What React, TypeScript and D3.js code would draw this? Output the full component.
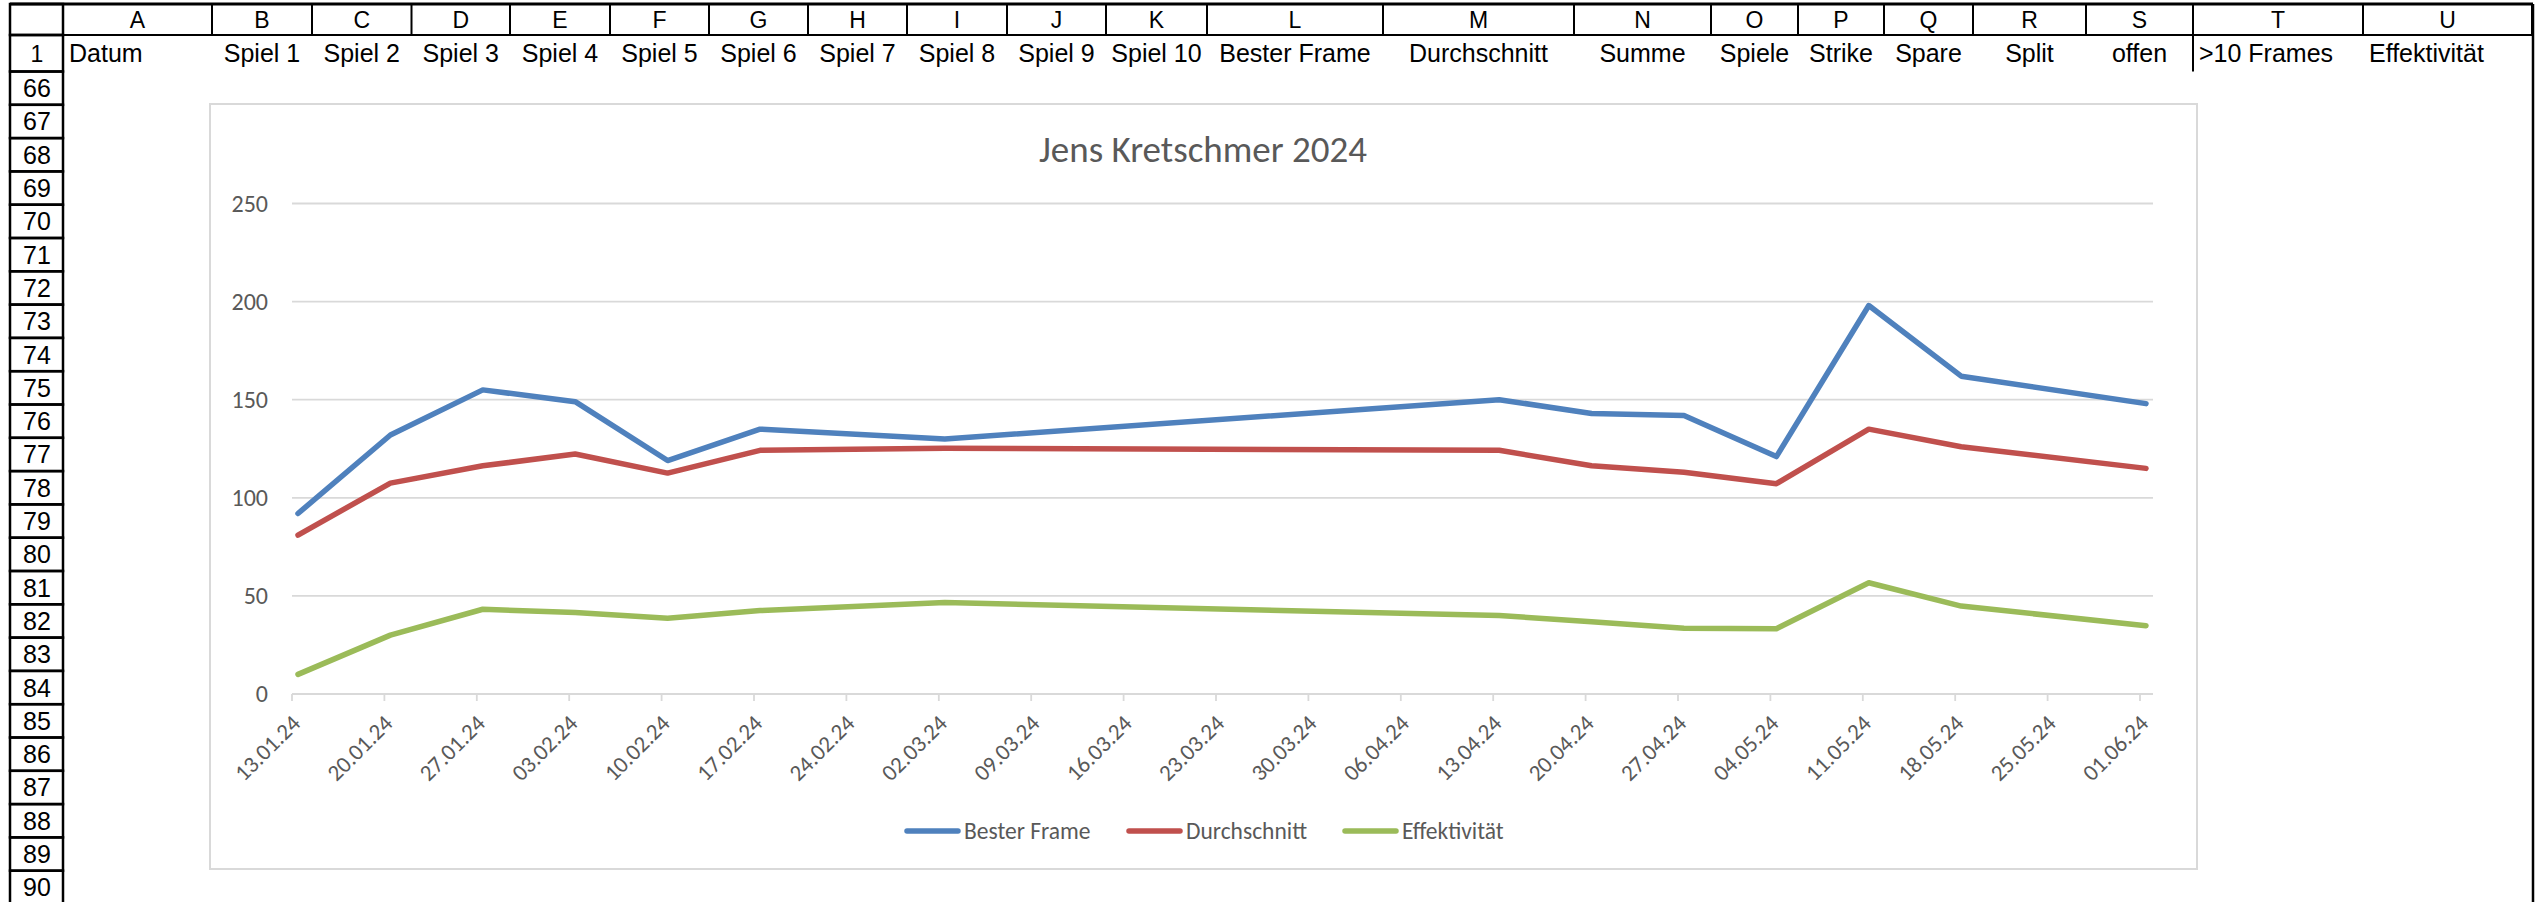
import React, { useEffect, useRef } from "react";
import * as d3 from "d3";

// Kategorien der X-Achse (Spieltage)
const dates = [
  "13.01.24", "20.01.24", "27.01.24", "03.02.24", "10.02.24", "17.02.24", "24.02.24",
  "02.03.24", "09.03.24", "16.03.24", "23.03.24", "30.03.24", "06.04.24", "13.04.24",
  "20.04.24", "27.04.24", "04.05.24", "11.05.24", "18.05.24", "25.05.24", "01.06.24",
];

// null = kein Spieltag, Excel verbindet die Punkte trotzdem
const besterFrame = [92, 132, 155, 149, 119, 135, null, 130, null, null, null, null, null, 150, 143, 142, 121, 198, 162, null, 148];
const durchschnitt = [81, 107.5, 116.3, 122.3, 112.6, 124.2, null, 125.2, null, null, null, null, null, 124.2, 116.3, 113, 107.2, 135, 126, null, 115];
const effektivitaet = [10, 30, 43.2, 41.5, 38.6, 42.5, null, 46.6, null, null, null, null, null, 40, 36.8, 33.5, 33.3, 56.7, 44.8, null, 34.8];

const seriesNames = ["Bester Frame", "Durchschnitt", "Effektivität"];
const yTicks = [0, 50, 100, 150, 200, 250];
const chartTitle = "Jens Kretschmer 2024";

// Tabellenkopf
const colLetters = ["A", "B", "C", "D", "E", "F", "G", "H", "I", "J", "K", "L", "M", "N", "O", "P", "Q", "R", "S", "T", "U"];
const headerTexts = [
  "Datum", "Spiel 1", "Spiel 2", "Spiel 3", "Spiel 4", "Spiel 5", "Spiel 6", "Spiel 7", "Spiel 8",
  "Spiel 9", "Spiel 10", "Bester Frame", "Durchschnitt", "Summe", "Spiele", "Strike", "Spare",
  "Split", "offen", ">10 Frames", "Effektivität",
];
const rowNumbers = ["66", "67", "68", "69", "70", "71", "72", "73", "74", "75", "76", "77", "78", "79", "80", "81", "82", "83", "84", "85", "86", "87", "88", "89", "90"];

// layout (pixel)
const W = 2540;
const H = 902;
const colEdges = [63, 212, 312, 411.5, 510, 610, 709, 808, 907, 1007, 1106, 1207, 1383, 1574, 1711, 1798, 1884, 1973, 2086, 2193, 2363, 2532];
const colors = ["#4F81BD", "#C0504D", "#9BBB59"];
const legendX = [905, 1127, 1343];

const App = () => {
  const svgRef = useRef(null);

  useEffect(() => {
    const svg = d3.select(svgRef.current);
    svg.selectAll("*").remove();

    svg.append("rect").attr("width", W).attr("height", H).attr("fill", "#fff");

    // ---------- Tabelle ----------
    const sheet = svg.append("g").attr("font-family", "'Liberation Sans', Arial, sans-serif").attr("fill", "#000");
    const headTop = 4;
    const headBottom = 35;
    const row1Bottom = 71.5;
    const rowH = 33.3;

    // Spaltenkopf
    colLetters.forEach((c, i) => {
      const x0 = colEdges[i];
      const x1 = colEdges[i + 1];
      sheet.append("text")
        .attr("x", (x0 + x1) / 2)
        .attr("y", (headTop + headBottom) / 2)
        .attr("dy", "0.36em")
        .attr("text-anchor", "middle")
        .attr("font-size", 23)
        .text(c);
      sheet.append("line")
        .attr("x1", x1).attr("x2", x1)
        .attr("y1", headTop).attr("y2", headBottom)
        .attr("stroke", "#000").attr("stroke-width", 2);
    });
    sheet.append("line").attr("x1", 10).attr("x2", 2533).attr("y1", headTop).attr("y2", headTop)
      .attr("stroke", "#000").attr("stroke-width", 3);
    sheet.append("line").attr("x1", 10).attr("x2", 2533).attr("y1", headBottom).attr("y2", headBottom)
      .attr("stroke", "#000").attr("stroke-width", 2);

    // Zeile 1
    headerTexts.forEach((t, i) => {
      const x0 = colEdges[i];
      const x1 = colEdges[i + 1];
      const left = i === 0 || i >= 19;
      sheet.append("text")
        .attr("x", left ? x0 + 6 : (x0 + x1) / 2)
        .attr("y", (headBottom + row1Bottom) / 2)
        .attr("dy", "0.36em")
        .attr("text-anchor", left ? "start" : "middle")
        .attr("font-size", 25)
        .text(t);
    });
    // Rahmen links von T1
    sheet.append("line").attr("x1", colEdges[19]).attr("x2", colEdges[19])
      .attr("y1", headBottom).attr("y2", row1Bottom).attr("stroke", "#000").attr("stroke-width", 2);

    // Zeilenköpfe
    const rowBoxes = [{ label: "1", y0: headBottom, y1: row1Bottom }].concat(
      rowNumbers.map((r, k) => ({ label: r, y0: row1Bottom + k * rowH, y1: row1Bottom + (k + 1) * rowH }))
    );
    sheet.append("rect").attr("x", 10).attr("y", headTop).attr("width", 53).attr("height", headBottom - headTop)
      .attr("fill", "none").attr("stroke", "#000").attr("stroke-width", 2.5);
    rowBoxes.forEach((b) => {
      sheet.append("rect")
        .attr("x", 10).attr("y", b.y0)
        .attr("width", 53).attr("height", b.y1 - b.y0)
        .attr("fill", "none").attr("stroke", "#000").attr("stroke-width", 2.5);
      sheet.append("text")
        .attr("x", 37)
        .attr("y", (b.y0 + b.y1) / 2)
        .attr("dy", "0.36em")
        .attr("text-anchor", "middle")
        .attr("font-size", b.label === "1" ? 23 : 25)
        .text(b.label);
    });
    // rechter Rand
    sheet.append("line").attr("x1", 2533).attr("x2", 2533).attr("y1", headTop).attr("y2", H)
      .attr("stroke", "#000").attr("stroke-width", 2.5);

    // ---------- Diagramm ----------
    const chart = svg.append("g").attr("font-family", "Carlito, Calibri, Lato, sans-serif");
    chart.append("rect")
      .attr("x", 210).attr("y", 104)
      .attr("width", 2197 - 210).attr("height", 869 - 104)
      .attr("fill", "#fff").attr("stroke", "#d9d9d9").attr("stroke-width", 2);

    const plotLeft = 292;
    const plotRight = 2153;
    const x = d3.scalePoint().domain(dates).range([plotLeft, 2140]);
    const shift = 6; // Datenpunkte leicht rechts von den Teilstrichen
    const y = d3.scaleLinear().domain([0, 250]).range([694, 203.5]);

    chart.append("text")
      .attr("x", 1203)
      .attr("y", 162)
      .attr("text-anchor", "middle")
      .attr("font-size", 37)
      .attr("fill", "#595959")
      .text(chartTitle);

    // Gitternetz
    chart.selectAll("line.grid")
      .data(yTicks)
      .enter()
      .append("line")
      .attr("class", "grid")
      .attr("x1", plotLeft).attr("x2", plotRight)
      .attr("y1", (d) => y(d)).attr("y2", (d) => y(d))
      .attr("stroke", "#d9d9d9").attr("stroke-width", 1.8);

    chart.selectAll("text.ytick")
      .data(yTicks)
      .enter()
      .append("text")
      .attr("class", "ytick")
      .attr("x", 268)
      .attr("y", (d) => y(d))
      .attr("dy", "0.35em")
      .attr("text-anchor", "end")
      .attr("font-size", 24)
      .attr("fill", "#595959")
      .text((d) => d);

    // Teilstriche + Beschriftung
    chart.selectAll("line.xtick")
      .data(dates)
      .enter()
      .append("line")
      .attr("class", "xtick")
      .attr("x1", (d) => x(d)).attr("x2", (d) => x(d))
      .attr("y1", y(0)).attr("y2", y(0) + 7)
      .attr("stroke", "#d9d9d9").attr("stroke-width", 1.8);

    chart.selectAll("text.xlabel")
      .data(dates)
      .enter()
      .append("text")
      .attr("class", "xlabel")
      .attr("transform", (d) => `translate(${x(d) + 4},${y(0) + 25}) rotate(-45)`)
      .attr("dy", "0.35em")
      .attr("text-anchor", "end")
      .attr("font-size", 23)
      .attr("fill", "#595959")
      .text((d) => d);

    // Linien
    const allSeries = [besterFrame, durchschnitt, effektivitaet];
    const line = d3.line()
      .x((d) => x(d.date) + shift)
      .y((d) => y(d.value));

    allSeries.forEach((vals, i) => {
      const pts = dates
        .map((date, j) => ({ date, value: vals[j] }))
        .filter((p) => p.value !== null);
      chart.append("path")
        .attr("d", line(pts))
        .attr("fill", "none")
        .attr("stroke", colors[i])
        .attr("stroke-width", 5.5)
        .attr("stroke-linejoin", "round")
        .attr("stroke-linecap", "round");
    });

    // Legende
    const legend = chart.selectAll("g.legend")
      .data(seriesNames)
      .enter()
      .append("g")
      .attr("class", "legend")
      .attr("transform", (d, i) => `translate(${legendX[i]},831)`);
    legend.append("line")
      .attr("x1", 2).attr("x2", 53)
      .attr("stroke", (d, i) => colors[i])
      .attr("stroke-width", 5.5)
      .attr("stroke-linecap", "round");
    legend.append("text")
      .attr("x", 59)
      .attr("dy", "0.35em")
      .attr("font-size", 23.5)
      .attr("fill", "#595959")
      .text((d) => d);
  }, []);

  return (
    <svg
      ref={svgRef}
      width={W}
      height={H}
      style={{ position: "absolute", left: 0, top: 0, display: "block" }}
    />
  );
};

export default App;
